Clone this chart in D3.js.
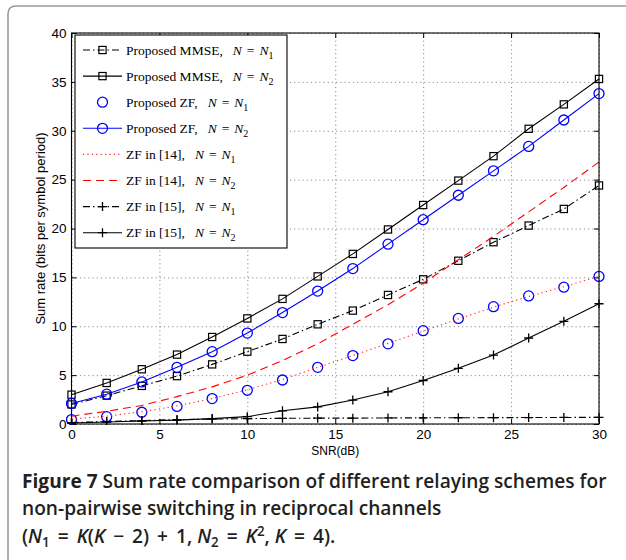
<!DOCTYPE html>
<html>
<head>
<meta charset="utf-8">
<script src="https://cdn.jsdelivr.net/npm/d3@7"></script>
<style>
  body { margin: 0; background: #fff; }
  svg { display: block; }
  .tick text { font-family: "Liberation Sans", Arial, sans-serif; font-size: 13.5px; fill: #000; }
  .grid line { stroke: #8c8c8c; stroke-dasharray: 1.2,3; }
  .grid path { display: none; }
</style>
</head>
<body>
<div id="chart"></div>
<script>
// x values (SNR in dB)
var snr = [0, 2, 4, 6, 8, 10, 12, 14, 16, 18, 20, 22, 24, 26, 28, 30];

// sum rates (bits per symbol period)
var mmseN1 = [2.0, 2.9, 3.9, 4.9, 6.1, 7.4, 8.7, 10.2, 11.6, 13.2, 14.8, 16.7, 18.6, 20.3, 22.0, 24.4];
var mmseN2 = [3.0, 4.2, 5.6, 7.1, 8.9, 10.8, 12.8, 15.1, 17.4, 19.9, 22.4, 24.9, 27.4, 30.2, 32.7, 35.3];
var zfN1 = [0.45, 0.75, 1.2, 1.8, 2.6, 3.45, 4.5, 5.8, 7.0, 8.2, 9.55, 10.8, 12.0, 13.1, 14.0, 15.1];
var zfN2 = [2.1, 3.05, 4.3, 5.8, 7.4, 9.3, 11.4, 13.6, 15.9, 18.4, 20.9, 23.4, 25.9, 28.4, 31.1, 33.8];
var zf14N1 = [0.5, 0.8, 1.25, 1.85, 2.6, 3.5, 4.55, 5.8, 7.0, 8.25, 9.5, 10.75, 11.95, 13.05, 14.05, 15.1];
var zf14N2 = [0.8, 1.3, 1.9, 2.8, 3.8, 5.0, 6.5, 8.2, 10.2, 12.2, 14.4, 16.8, 19.2, 21.7, 24.2, 26.8];
var zf15N1 = [0.15, 0.25, 0.35, 0.45, 0.5, 0.55, 0.58, 0.6, 0.6, 0.62, 0.63, 0.64, 0.65, 0.66, 0.67, 0.68];
var zf15N2 = [0.1, 0.2, 0.3, 0.4, 0.55, 0.75, 1.35, 1.75, 2.45, 3.3, 4.45, 5.7, 7.05, 8.8, 10.5, 12.3];

var xTicks = [0, 5, 10, 15, 20, 25, 30];
var yTicks = [0, 5, 10, 15, 20, 25, 30, 35, 40];

// legend labels: [name, subscript]
var legendLabels = [
  ["Proposed MMSE,", "1"],
  ["Proposed MMSE,", "2"],
  ["Proposed ZF,", "1"],
  ["Proposed ZF,", "2"],
  ["ZF in [14],", "1"],
  ["ZF in [14],", "2"],
  ["ZF in [15],", "1"],
  ["ZF in [15],", "2"]
];

var series = [
  { values: mmseN1, color: "#000", dash: "7,3,1.5,3", marker: "square", line: true },
  { values: mmseN2, color: "#000", dash: null, marker: "square", line: true },
  { values: zfN1, color: "#0000ff", dash: null, marker: "circle", line: false },
  { values: zfN2, color: "#0000ff", dash: null, marker: "circle", line: true },
  { values: zf14N1, color: "#ff2020", dash: "1.2,3.2", marker: null, line: true },
  { values: zf14N2, color: "#ff0000", dash: "8,5", marker: null, line: true },
  { values: zf15N1, color: "#000", dash: "7,3,1.5,3", marker: "plus", line: true },
  { values: zf15N2, color: "#000", dash: null, marker: "plus", line: true }
];

var W = 626, H = 560;
var margin = { left: 71.5, top: 33, right: 27, bottom: 136 };
var width = W - margin.left - margin.right,
    height = H - margin.top - margin.bottom;

var svg = d3.select("#chart").append("svg")
    .attr("width", W)
    .attr("height", H);

// figure frame (rounded top-left corner)
svg.append("path")
    .attr("d", "M8,560 L8,14 Q8,6 16,6 L626,6")
    .attr("fill", "none")
    .attr("stroke", "#9a9a9a")
    .attr("stroke-width", 1.6);

var x = d3.scaleLinear().domain([0, 30]).range([0, width]);
var y = d3.scaleLinear().domain([0, 40]).range([height, 0]);

var g = svg.append("g")
    .attr("transform", "translate(" + margin.left + "," + margin.top + ")");

// grid
g.append("g").attr("class", "grid")
    .attr("transform", "translate(0," + height + ")")
    .call(d3.axisBottom(x).tickValues(xTicks).tickSize(-height).tickFormat(""));
g.append("g").attr("class", "grid")
    .call(d3.axisLeft(y).tickValues(yTicks).tickSize(-width).tickFormat(""));

// axes, ticks pointing inward
function styleAxis(sel) {
  sel.select(".domain").remove();
  sel.selectAll(".tick line").attr("stroke", "#000");
}
g.append("g")
    .attr("transform", "translate(0," + height + ")")
    .call(d3.axisBottom(x).tickValues(xTicks).tickSizeInner(-5).tickSizeOuter(0).tickPadding(5))
    .call(styleAxis);
g.append("g")
    .call(d3.axisLeft(y).tickValues(yTicks).tickSizeInner(-5).tickSizeOuter(0).tickPadding(5))
    .call(styleAxis);
g.append("g")
    .call(d3.axisTop(x).tickValues(xTicks).tickSizeInner(-5).tickSizeOuter(0).tickFormat(""))
    .call(styleAxis);
g.append("g")
    .attr("transform", "translate(" + width + ",0)")
    .call(d3.axisRight(y).tickValues(yTicks).tickSizeInner(-5).tickSizeOuter(0).tickFormat(""))
    .call(styleAxis);

// clip for lines
svg.append("defs").append("clipPath").attr("id", "clip")
  .append("rect").attr("x", -6).attr("y", -1).attr("width", width + 12).attr("height", height + 2);

var line = d3.line()
    .x(function(d, i) { return x(snr[i]); })
    .y(function(d) { return y(d); });

function drawMarker(sel, type, color) {
  if (type === "square") {
    sel.append("rect")
      .attr("x", -3.6).attr("y", -3.6).attr("width", 7.2).attr("height", 7.2)
      .attr("fill", "none").attr("stroke", color).attr("stroke-width", 1.2);
  } else if (type === "circle") {
    sel.append("circle")
      .attr("r", 5).attr("fill", "none").attr("stroke", color).attr("stroke-width", 1.3);
  } else if (type === "plus") {
    sel.append("path")
      .attr("d", "M-4.5,0H4.5M0,-4.5V4.5")
      .attr("stroke", color).attr("stroke-width", 1.3);
  }
}

var plot = g.append("g").attr("clip-path", "url(#clip)");
series.forEach(function(s) {
  if (s.line) {
    plot.append("path")
      .datum(s.values)
      .attr("d", line)
      .attr("fill", "none")
      .attr("stroke", s.color)
      .attr("stroke-width", 1.1)
      .attr("stroke-dasharray", s.dash);
  }
  if (s.marker) {
    plot.selectAll(null)
      .data(s.values)
      .enter().append("g")
      .attr("transform", function(d, i) { return "translate(" + x(snr[i]) + "," + y(d) + ")"; })
      .each(function() { drawMarker(d3.select(this), s.marker, s.color); });
  }
});

// axes box
g.append("rect")
    .attr("width", width).attr("height", height)
    .attr("fill", "none").attr("stroke", "#000").attr("stroke-width", 1.1);

// axis labels
svg.append("text")
    .attr("x", margin.left + width / 2)
    .attr("y", 455)
    .attr("text-anchor", "middle")
    .style("font-family", "Liberation Sans, Arial, sans-serif")
    .style("font-size", "12px")
    .text("SNR(dB)");
svg.append("text")
    .attr("transform", "translate(45," + (margin.top + height / 2) + ") rotate(-90)")
    .attr("text-anchor", "middle")
    .style("font-family", "Liberation Sans, Arial, sans-serif")
    .style("font-size", "13px")
    .text("Sum rate (bits per symbol period)");

// legend
var legend = svg.append("g").attr("transform", "translate(75,35)");
legend.append("rect")
    .attr("width", 212).attr("height", 213)
    .attr("fill", "#fff").attr("stroke", "#000").attr("stroke-width", 1.1);

legendLabels.forEach(function(lab, i) {
  var s = series[i];
  var ly = 15 + i * 26.1;
  var row = legend.append("g").attr("transform", "translate(0," + ly + ")");
  if (s.line) {
    row.append("line")
      .attr("x1", 8).attr("x2", 47).attr("y1", 0).attr("y2", 0)
      .attr("stroke", s.color).attr("stroke-width", 1.1)
      .attr("stroke-dasharray", s.dash);
  }
  if (s.marker) {
    drawMarker(row.append("g").attr("transform", "translate(27.5,0)"), s.marker, s.color);
  }
  var t = row.append("text")
    .attr("x", 51).attr("y", 4.5)
    .style("font-family", "Liberation Serif, Times New Roman, serif")
    .style("font-size", "13.5px");
  t.append("tspan").text(lab[0]);
  t.append("tspan").attr("dx", 10).style("font-style", "italic").text("N");
  t.append("tspan").attr("dx", 5).text("=");
  t.append("tspan").attr("dx", 5).style("font-style", "italic").text("N");
  t.append("tspan").attr("dy", 4).style("font-size", "10px").text(lab[1]);
});

// caption
var capFont = "Open Sans, Noto Sans, sans-serif";
var cap = svg.append("g").style("fill", "#231f20");
var c1 = cap.append("text").attr("x", 22).attr("y", 488).style("font-family", capFont).style("font-weight", 600);
c1.append("tspan").style("font-weight", 700).text("Figure 7");
c1.append("tspan").text(" Sum rate comparison of different relaying schemes for");
var c2 = cap.append("text").attr("x", 22).attr("y", 515).style("font-family", capFont).style("font-weight", 600)
    .text("non-pairwise switching in reciprocal channels");
var c3 = cap.append("text").attr("x", 22).attr("y", 543).style("font-family", capFont).style("font-weight", 600);
var op = 8; // math spacing around operators
c3.append("tspan").text("(");
c3.append("tspan").style("font-style", "italic").text("N");
c3.append("tspan").attr("class", "sub").attr("dy", 4).text("1");
c3.append("tspan").attr("dy", -4).attr("dx", op).text("=");
c3.append("tspan").attr("dx", op).style("font-style", "italic").text("K");
c3.append("tspan").text("(");
c3.append("tspan").style("font-style", "italic").text("K");
c3.append("tspan").attr("dx", op).text("\u2212");
c3.append("tspan").attr("dx", op).text("2)");
c3.append("tspan").attr("dx", op).text("+");
c3.append("tspan").attr("dx", op).text("1,");
c3.append("tspan").attr("dx", 5).style("font-style", "italic").text("N");
c3.append("tspan").attr("class", "sub").attr("dy", 4).text("2");
c3.append("tspan").attr("dy", -4).attr("dx", op).text("=");
c3.append("tspan").attr("dx", op).style("font-style", "italic").text("K");
c3.append("tspan").attr("class", "sup").attr("dy", -7).text("2");
c3.append("tspan").attr("dy", 7).text(",");
c3.append("tspan").attr("dx", 5).style("font-style", "italic").text("K");
c3.append("tspan").attr("dx", op).text("=");
c3.append("tspan").attr("dx", op).text("4).");

// fit caption size to the first line's width
cap.selectAll("text").style("font-size", "18px");
var w1 = c1.node().getComputedTextLength();
var fs = 18 * 585 / w1;
cap.selectAll("text").style("font-size", fs + "px");
cap.selectAll(".sub, .sup").style("font-size", (fs * 0.7) + "px");
</script>
</body>
</html>
